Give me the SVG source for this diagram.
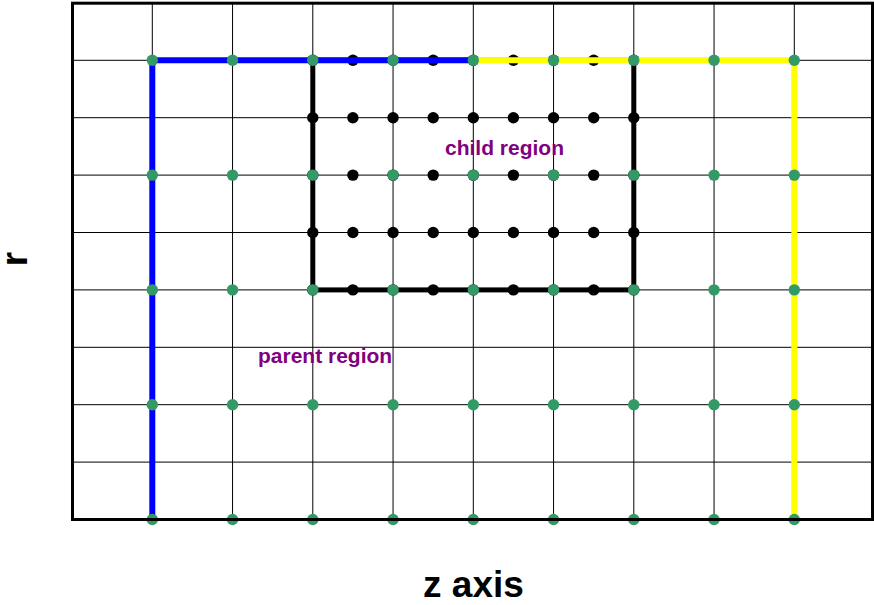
<svg xmlns="http://www.w3.org/2000/svg" width="874" height="605" viewBox="0 0 874 605">
<style>
.grid line{stroke:#000;stroke-width:1}
.gd{fill:#339966}
.bd{fill:#000}
.lbl{font-family:"Liberation Sans",Arial,sans-serif;font-weight:bold;font-size:21px;fill:#800080}
.ax{font-family:"Liberation Sans",Arial,sans-serif;font-weight:bold;font-size:37px;fill:#000}
</style>
<defs>
<circle id="g" r="5.7" class="gd"/>
<circle id="b" r="5.7" class="bd"/>
</defs>
<rect x="0" y="0" width="874" height="605" fill="#fff"/>
<g id="grid" class="grid">
<line x1="72" y1="60.3" x2="872" y2="60.3"/>
<line x1="72" y1="117.7" x2="872" y2="117.7"/>
<line x1="72" y1="175.1" x2="872" y2="175.1"/>
<line x1="72" y1="232.5" x2="872" y2="232.5"/>
<line x1="72" y1="289.9" x2="872" y2="289.9"/>
<line x1="72" y1="347.3" x2="872" y2="347.3"/>
<line x1="72" y1="404.7" x2="872" y2="404.7"/>
<line x1="72" y1="462.1" x2="872" y2="462.1"/>
<line x1="152.3" y1="3" x2="152.3" y2="519"/>
<line x1="232.55" y1="3" x2="232.55" y2="519"/>
<line x1="312.8" y1="3" x2="312.8" y2="519"/>
<line x1="393.05" y1="3" x2="393.05" y2="519"/>
<line x1="473.3" y1="3" x2="473.3" y2="519"/>
<line x1="553.55" y1="3" x2="553.55" y2="519"/>
<line x1="633.8" y1="3" x2="633.8" y2="519"/>
<line x1="714.05" y1="3" x2="714.05" y2="519"/>
<line x1="794.3" y1="3" x2="794.3" y2="519"/>
</g>
<g id="child-region">
<rect x="312.8" y="60.3" width="321" height="229.6" fill="none" stroke="#000" stroke-width="5"/>
<g id="child-points">
<use href="#b" x="312.8" y="60.3"/><use href="#b" x="352.9" y="60.3"/><use href="#b" x="393.05" y="60.3"/><use href="#b" x="433.2" y="60.3"/><use href="#b" x="473.3" y="60.3"/><use href="#b" x="513.4" y="60.3"/><use href="#b" x="553.55" y="60.3"/><use href="#b" x="593.7" y="60.3"/><use href="#b" x="633.8" y="60.3"/>
<use href="#b" x="312.8" y="117.7"/><use href="#b" x="352.9" y="117.7"/><use href="#b" x="393.05" y="117.7"/><use href="#b" x="433.2" y="117.7"/><use href="#b" x="473.3" y="117.7"/><use href="#b" x="513.4" y="117.7"/><use href="#b" x="553.55" y="117.7"/><use href="#b" x="593.7" y="117.7"/><use href="#b" x="633.8" y="117.7"/>
<use href="#b" x="312.8" y="175.1"/><use href="#b" x="352.9" y="175.1"/><use href="#b" x="393.05" y="175.1"/><use href="#b" x="433.2" y="175.1"/><use href="#b" x="473.3" y="175.1"/><use href="#b" x="513.4" y="175.1"/><use href="#b" x="553.55" y="175.1"/><use href="#b" x="593.7" y="175.1"/><use href="#b" x="633.8" y="175.1"/>
<use href="#b" x="312.8" y="232.5"/><use href="#b" x="352.9" y="232.5"/><use href="#b" x="393.05" y="232.5"/><use href="#b" x="433.2" y="232.5"/><use href="#b" x="473.3" y="232.5"/><use href="#b" x="513.4" y="232.5"/><use href="#b" x="553.55" y="232.5"/><use href="#b" x="593.7" y="232.5"/><use href="#b" x="633.8" y="232.5"/>
<use href="#b" x="312.8" y="289.9"/><use href="#b" x="352.9" y="289.9"/><use href="#b" x="393.05" y="289.9"/><use href="#b" x="433.2" y="289.9"/><use href="#b" x="473.3" y="289.9"/><use href="#b" x="513.4" y="289.9"/><use href="#b" x="553.55" y="289.9"/><use href="#b" x="593.7" y="289.9"/><use href="#b" x="633.8" y="289.9"/>
</g>
</g>
<g id="boundaries" fill="none" stroke-width="6" stroke-linejoin="miter">
<polyline points="152.3,519.5 152.3,60.3 473.3,60.3" stroke="#0000ff"/>
<polyline points="473.3,60.3 794.3,60.3 794.3,519.5" stroke="#ffff00"/>
</g>
<g id="parent-points">
<use href="#g" x="152.3" y="60.3"/><use href="#g" x="232.55" y="60.3"/><use href="#g" x="312.8" y="60.3"/><use href="#g" x="393.05" y="60.3"/><use href="#g" x="473.3" y="60.3"/><use href="#g" x="553.55" y="60.3"/><use href="#g" x="633.8" y="60.3"/><use href="#g" x="714.05" y="60.3"/><use href="#g" x="794.3" y="60.3"/>
<use href="#g" x="152.3" y="175.1"/><use href="#g" x="232.55" y="175.1"/><use href="#g" x="312.8" y="175.1"/><use href="#g" x="393.05" y="175.1"/><use href="#g" x="473.3" y="175.1"/><use href="#g" x="553.55" y="175.1"/><use href="#g" x="633.8" y="175.1"/><use href="#g" x="714.05" y="175.1"/><use href="#g" x="794.3" y="175.1"/>
<use href="#g" x="152.3" y="289.9"/><use href="#g" x="232.55" y="289.9"/><use href="#g" x="312.8" y="289.9"/><use href="#g" x="393.05" y="289.9"/><use href="#g" x="473.3" y="289.9"/><use href="#g" x="553.55" y="289.9"/><use href="#g" x="633.8" y="289.9"/><use href="#g" x="714.05" y="289.9"/><use href="#g" x="794.3" y="289.9"/>
<use href="#g" x="152.3" y="404.7"/><use href="#g" x="232.55" y="404.7"/><use href="#g" x="312.8" y="404.7"/><use href="#g" x="393.05" y="404.7"/><use href="#g" x="473.3" y="404.7"/><use href="#g" x="553.55" y="404.7"/><use href="#g" x="633.8" y="404.7"/><use href="#g" x="714.05" y="404.7"/><use href="#g" x="794.3" y="404.7"/>
<use href="#g" x="152.3" y="519.5"/><use href="#g" x="232.55" y="519.5"/><use href="#g" x="312.8" y="519.5"/><use href="#g" x="393.05" y="519.5"/><use href="#g" x="473.3" y="519.5"/><use href="#g" x="553.55" y="519.5"/><use href="#g" x="633.8" y="519.5"/><use href="#g" x="714.05" y="519.5"/><use href="#g" x="794.3" y="519.5"/>
</g>
<rect id="frame" x="72.5" y="3.2" width="800" height="516.3" fill="none" stroke="#000" stroke-width="3"/>
<g id="labels">
<text class="lbl" x="445" y="155">child region</text>
<text class="lbl" x="258" y="363">parent region</text>
<text class="ax" x="473.5" y="597" text-anchor="middle">z axis</text>
<text class="ax" transform="translate(27,259) rotate(-90)" text-anchor="middle">r</text>
</g>
</svg>
